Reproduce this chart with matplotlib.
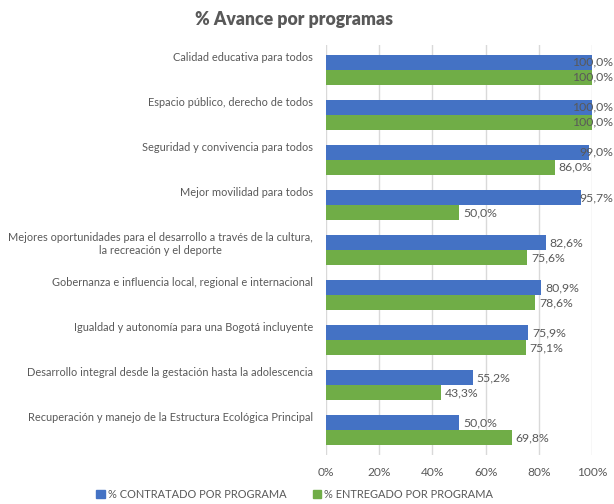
import matplotlib
matplotlib.use("Agg")
import matplotlib.pyplot as plt
from matplotlib.patches import Patch
from matplotlib.transforms import blended_transform_factory

categories = [
    "Calidad educativa para todos",
    "Espacio público, derecho de todos",
    "Seguridad y convivencia para todos",
    "Mejor movilidad para todos",
    "Mejores oportunidades para el desarrollo a través de la cultura,\nla recreación y el deporte",
    "Gobernanza e influencia local, regional e internacional",
    "Igualdad y autonomía para una Bogotá incluyente",
    "Desarrollo integral desde la gestación hasta la adolescencia",
    "Recuperación y manejo de la Estructura Ecológica Principal",
]
contratado = [100.0, 100.0, 99.0, 95.7, 82.6, 80.9, 75.9, 55.2, 50.0]
entregado = [100.0, 100.0, 86.0, 50.0, 75.6, 78.6, 75.1, 43.3, 69.8]
x_ticks = [0, 20, 40, 60, 80, 100]
x_tick_labels = ["0%", "20%", "40%", "60%", "80%", "100%"]
series_names = ["% CONTRATADO POR PROGRAMA", "% ENTREGADO POR PROGRAMA"]

plt.rcParams['font.family'] = ['Lato', 'DejaVu Sans']
TXT = '#595959'
BLUE = '#4472C4'
GREEN = '#70AD47'

W, H = 614, 504
fig = plt.figure(figsize=(W / 100, H / 100), dpi=100)
ax = fig.add_axes([326 / W, 1 - 455 / H, (592 - 326) / W, (455 - 45) / H])

h = 1 / 3
ys = list(range(len(categories)))
ax.barh([y - h / 2 for y in ys], contratado, height=h, color=BLUE, zorder=3)
ax.barh([y + h / 2 for y in ys], entregado, height=h, color=GREEN, zorder=3)

ax.set_xlim(0, 100)
ax.set_ylim(8.55, -0.55)
ax.set_xticks(x_ticks)
ax.set_xticklabels(x_tick_labels, color=TXT, fontsize=8.6)
ax.set_yticks([])
ax.tick_params(axis='x', length=0, pad=9)
for s in ax.spines.values():
    s.set_visible(False)
ax.grid(axis='x', color='#d9d9d9', linewidth=1, zorder=0)

right_lim = 107.9
lab_w = 14.5
for vals, off in ((contratado, -h / 2), (entregado, h / 2)):
    for y, v in zip(ys, vals):
        s = f"{v:.1f}".replace('.', ',') + '%'
        if v + 1.5 + lab_w > right_lim:
            ax.text(right_lim, y + off, s, ha='right', va='center', fontsize=8.8, color=TXT, clip_on=False, zorder=4)
        else:
            ax.text(v + 1.5, y + off, s, ha='left', va='center', fontsize=8.8, color=TXT, clip_on=False, zorder=4)

tr = blended_transform_factory(ax.transAxes, ax.transData)
for y, c in zip(ys, categories):
    ax.text(-0.049, y - h - 0.06, c, transform=tr, ha='right', va='top', multialignment='center',
            fontsize=7.95, color=TXT, linespacing=1.2)

fig.text(294 / W, 1 - 20 / H, "% Avance por programas", ha='center', va='center',
         fontsize=12.7, fontweight='heavy', color=TXT)

handles = [Patch(color=BLUE), Patch(color=GREEN)]
fig.legend(handles, series_names, loc='center', bbox_to_anchor=(295 / W, 1 - 494 / H), ncol=2,
           frameon=False, fontsize=7.9, labelcolor=TXT, handlelength=0.75, handleheight=0.75,
           handletextpad=0.3, columnspacing=2.4)

fig.savefig('out.png', dpi=100)
